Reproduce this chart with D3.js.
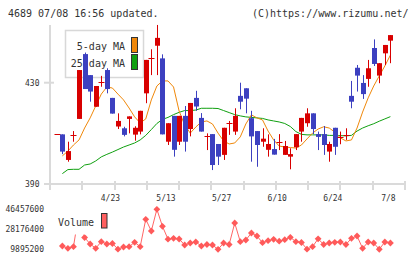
<!DOCTYPE html>
<html><head><meta charset="utf-8">
<script src="https://cdn.jsdelivr.net/npm/d3@7"></script>
<style>html,body{margin:0;padding:0;background:#fff;}svg{display:block;}</style>
</head><body><svg id="c" width="420" height="259"></svg>
<script>
const opens  = [409.6,409.6,399.5,409.4,415.7,441.3,433.0,420.5,430.4,435.0,424.0,412.7,412.0,415.7,409.5,410.7,425.8,439.6,444.6,439.6,406.7,416.9,406.7,416.9,411.7,424.0,416.1,409.1,409.7,405.8,401.5,414.0,410.7,424.8,427.8,416.0,410.9,406.7,403.5,403.8,406.7,401.5,400.8,404.5,410.7,414.0,417.9,409.7,409.7,402.8,412.2,408.6,409.4,424.8,435.9,429.9,431.5,443.7,432.8,441.6,446.6];
const highs  = [409.6,409.6,406.7,410.9,435.0,441.9,433.0,428.7,432.7,435.7,424.0,417.9,412.6,416.7,412.8,418.9,439.0,443.2,452.8,441.2,414.0,416.9,416.9,420.8,422.0,426.8,418.0,410.0,409.7,405.8,412.2,414.9,419.9,430.0,427.8,418.9,410.9,412.0,409.6,407.8,409.7,407.0,404.1,409.7,416.1,419.9,417.9,410.7,412.9,406.7,412.2,410.7,412.0,430.7,437.0,433.0,439.0,447.1,437.7,444.9,448.8];
const lows   = [409.6,401.8,398.8,406.7,415.7,427.5,422.5,420.5,428.4,425.8,417.8,411.7,408.8,410.0,407.1,409.6,421.9,433.0,433.0,409.6,405.4,400.8,405.4,402.8,408.8,418.9,410.7,403.4,395.5,397.5,399.5,409.4,409.4,419.5,417.9,398.8,396.8,404.7,400.8,401.6,403.4,401.5,395.8,403.4,406.7,412.6,409.7,403.4,401.5,398.8,401.5,405.7,407.4,419.9,426.5,423.6,428.4,436.6,429.8,437.0,437.7];
const closes = [409.6,402.8,403.0,409.4,435.0,427.5,426.5,428.7,430.4,427.5,417.8,414.9,409.4,416.7,412.2,418.9,439.0,439.6,447.7,409.6,414.0,403.5,416.9,406.7,422.0,420.6,410.7,409.1,397.5,400.8,412.2,414.0,416.9,422.5,423.7,408.8,405.4,407.9,405.8,401.6,406.7,405.0,401.8,409.7,416.1,417.9,411.7,408.6,405.4,405.8,404.7,408.6,409.4,422.5,432.8,425.5,435.7,437.4,437.7,444.9,448.8];
const ma5  = [null,401.1,403.0,405.4,407.4,412.1,416.1,420.8,425.5,428.3,427.9,425.5,423.2,420.0,416.5,414.1,415.7,423.2,428.7,430.7,430.7,428.3,418.8,413.3,410.1,412.5,414.5,414.9,413.7,410.1,407.0,405.8,406.2,408.6,413.7,417.3,416.1,415.3,410.9,407.4,405.0,404.6,404.4,404.2,405.4,407.8,410.1,411.7,412.6,412.1,410.5,408.2,407.0,407.4,412.1,418.4,424.0,428.7,432.7,436.6,440.9];
const ma25 = [null,394.1,395.7,395.8,395.8,397.5,397.9,399.1,400.7,401.7,402.6,403.6,404.6,405.4,406.2,407.4,409.2,411.5,413.9,415.5,416.3,417.4,418.3,419.0,419.0,419.2,419.9,419.9,419.9,419.8,419.0,418.2,417.4,416.9,416.5,416.3,416.1,415.9,415.3,414.9,414.5,413.9,412.7,410.7,409.6,409.4,409.4,409.4,409.4,409.2,409.2,409.1,409.0,409.2,410.9,412.1,413.0,413.8,414.8,415.7,416.6];
const volumes = [null,12911600,10809300,12271800,43990600,20681100,14739700,10809300,16842100,14739700,15196700,10050000,11997500,12271800,16293600,12271800,37317000,26622500,46457600,30918600,19127200,19949900,19310000,13825700,15654000,16567800,12911600,14282700,13825700,9895200,15654000,14282700,33935000,16842100,18396000,24794400,22052200,15928000,17756200,19035800,17299100,18670200,20863900,16842100,16111000,10050000,12271800,19493000,14282700,15654000,16293600,16567800,14282700,19949900,22052200,10809300,16567800,15654000,9950000,16567800,15654000];
const xTickLabels = ["4/23","5/13","5/27","6/10","6/24","7/8"];
const xTickIndex  = [10,20,30,40,50,60];
const priceTicks  = [390,430];
const volumeTicks = [9895200,28176400,46457600];
const headerLeft  = "4689 07/08 16:56 updated.";
const headerRight = "(C)https://www.rizumu.net/";
const legendNames = ["5-day MA","25-day MA"];
const legendColors = ["#f0880a","#10a010"];

const svg = d3.select("#c");
const FONT = "'DejaVu Sans Mono', 'Liberation Mono', monospace";
const TXT = "#333";
const GRID = "#dadada";
const RED = "#d80000", BLUE = "#3c40c0";
const N = closes.length;

const x  = d3.scaleLinear().domain([0, N-1]).range([56.8, 390.4]);
const y  = d3.scaleLinear().domain([390, 430]).range([184, 82.7]);
const yv = d3.scaleLinear().domain([d3.min(volumes.filter(v=>v!=null)), d3.max(volumes)]).range([249.3, 209.3]);
const frame = d3.scaleLinear().domain([0, 11]).range([50, 405]);

// header
svg.append("text").attr("x", 8).attr("y", 17).attr("font-family", FONT).attr("font-size", 10).attr("fill", TXT).text(headerLeft);
svg.append("text").attr("x", 408.5).attr("y", 17).attr("text-anchor","end").attr("font-family", FONT).attr("font-size", 10).attr("fill", TXT).text(headerRight);

// frame
const g = svg.append("g");
g.append("line").attr("x1",50).attr("x2",50).attr("y1",25).attr("y2",189).attr("stroke",GRID).attr("stroke-width",2);
g.append("line").attr("x1",44).attr("x2",406).attr("y1",184).attr("y2",184).attr("stroke",GRID).attr("stroke-width",2);
g.selectAll(".ft").data(d3.range(12)).join("line")
  .attr("x1", d=>Math.round(frame(d))).attr("x2", d=>Math.round(frame(d)))
  .attr("y1",181).attr("y2",190).attr("stroke",GRID).attr("stroke-width",2);
g.selectAll(".yt").data(priceTicks.filter(t=>t!==390)).join("line")
  .attr("x1",44).attr("x2",54).attr("y1",d=>y(d)).attr("y2",d=>y(d)).attr("stroke",GRID).attr("stroke-width",2);
g.selectAll(".yl").data(priceTicks).join("text")
  .attr("x",39.5).attr("y",d=>y(d)+2.9).attr("text-anchor","end")
  .attr("font-family",FONT).attr("font-size",8).attr("fill",TXT).text(d=>d);
g.selectAll(".xl").data(xTickIndex).join("text")
  .attr("x",d=>x(d)-2).attr("y",200.5).attr("text-anchor","middle")
  .attr("font-family",FONT).attr("font-size",8).attr("fill",TXT).text((d,i)=>xTickLabels[i]);

// legend (price)
const lg = svg.append("g");
lg.append("rect").attr("x",65.5).attr("y",30.5).attr("width",78).attr("height",47).attr("fill","#fff").attr("stroke","#d8d8d8").attr("stroke-width",1.5);
legendNames.forEach((n,i)=>{
  lg.append("text").attr("x",125).attr("y",[50,67][i]).attr("text-anchor","end")
    .attr("font-family",FONT).attr("font-size",10).attr("fill",TXT).text(n);
  lg.append("rect").attr("x",131.5).attr("y",[37.5,54.5][i]).attr("width",6).attr("height",15)
    .attr("fill",legendColors[i]).attr("stroke","#333").attr("stroke-width",1);
});

// MA lines
const maLine = arr => d3.line().defined(d=>d!=null).x((d,i)=>x(i)).y(d=>y(d))(arr);
svg.append("path").attr("d", maLine(ma25)).attr("fill","none").attr("stroke",legendColors[1]).attr("stroke-width",1);
svg.append("path").attr("d", maLine(ma5)).attr("fill","none").attr("stroke",legendColors[0]).attr("stroke-width",1);

// candles
const cg = svg.append("g");
closes.forEach((c,i)=>{
  const o = opens[i], h = highs[i], l = lows[i];
  const cx = Math.round(x(i));
  const col = c > o ? RED : (c < o ? BLUE : RED);
  if (h > l) cg.append("line").attr("x1",cx+0.5).attr("x2",cx+0.5).attr("y1",y(h)).attr("y2",y(l)).attr("stroke",col).attr("stroke-width",1);
  if (c === o) {
    cg.append("line").attr("x1",cx-2.5).attr("x2",cx+3.5).attr("y1",Math.round(y(c))+0.5).attr("y2",Math.round(y(c))+0.5).attr("stroke",col).attr("stroke-width",1);
  } else {
    const top = y(Math.max(o,c)), bot = y(Math.min(o,c));
    cg.append("rect").attr("x",cx-2).attr("y",top).attr("width",5).attr("height",Math.max(1,bot-top)).attr("fill",col);
  }
});

// volume
const vg = svg.append("g");
vg.append("path").attr("d", d3.line().defined(d=>d!=null).x((d,i)=>x(i)).y(d=>yv(d))(volumes))
  .attr("fill","none").attr("stroke","#ff6666").attr("stroke-width",1);
vg.selectAll(".vd").data(volumes.map((v,i)=>({v,i})).filter(d=>d.v!=null)).join("path")
  .attr("transform",d=>`translate(${x(d.i)},${yv(d.v)})`)
  .attr("d","M0,-3.4L3.4,0L0,3.4L-3.4,0Z").attr("fill","#ff5a5a");
// volume legend
vg.append("rect").attr("x",55).attr("y",206).attr("width",57).attr("height",28.5).attr("fill","#fff");
vg.append("text").attr("x",58).attr("y",225.6).attr("font-family",FONT).attr("font-size",10).attr("fill",TXT).text("Volume");
vg.append("rect").attr("x",101.5).attr("y",213.5).attr("width",5.5).attr("height",14.5).attr("fill","#ff6060").attr("stroke","#333").attr("stroke-width",1);
vg.selectAll(".vl").data(volumeTicks).join("text")
  .attr("x",44).attr("y",d=>yv(d)+2.9).attr("text-anchor","end")
  .attr("font-family",FONT).attr("font-size",8).attr("fill",TXT).text(d=>d);
</script>
</body></html>
